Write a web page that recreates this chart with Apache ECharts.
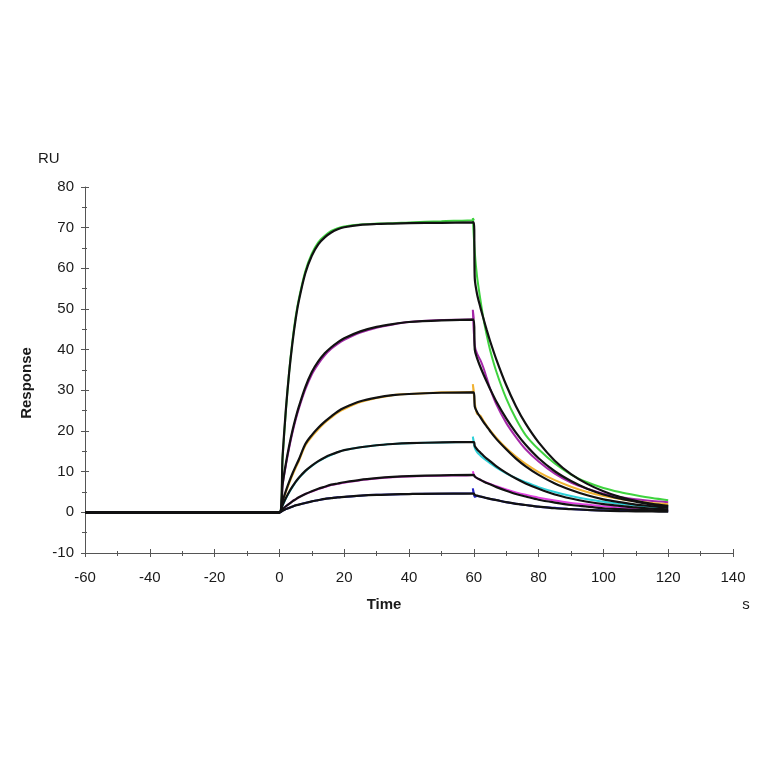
<!DOCTYPE html>
<html><head><meta charset="utf-8">
<script src="https://cdn.jsdelivr.net/npm/echarts@6/dist/echarts.min.js"></script>
<style>html,body{margin:0;padding:0;background:#fff}#c{width:764px;height:764px}</style>
</head><body><div id="c"></div>
<script>
// ---- data ----
const baselineT = [-60, -40, -20, 0];
const assocT = [0, 1, 2, 3, 4, 5, 6, 8, 10, 12, 14, 16, 18, 20, 25, 30, 35, 40, 50, 60];
const dissT = [60.3, 61, 62, 63, 64, 65, 67, 70, 73, 76, 80, 85, 90, 95, 100, 105, 110, 115, 120];
const spikeT = 59.7;

// fitted curves (black)
const fit1A = [0, 14, 25.3, 34.3, 41.5, 47.4, 52, 58.8, 63.1, 65.9, 67.6, 68.8, 69.6, 70.1, 70.7, 70.9, 71.0, 71.1, 71.2, 71.3];
const fit1D = [57.5, 53.7, 50.5, 47.6, 44.8, 42.2, 37.5, 31.3, 26.1, 21.8, 17.2, 12.7, 9.4, 7.0, 5.2, 3.8, 2.8, 2.1, 1.6];
const fit2A = [0, 7, 12, 16.3, 20, 23.2, 26, 30.8, 34.5, 37.1, 39.1, 40.6, 41.8, 42.8, 44.5, 45.6, 46.3, 46.8, 47.2, 47.4];
const fit2D = [40, 37.9, 35.8, 33.9, 32.1, 30.4, 27.2, 23.1, 19.6, 16.6, 13.3, 10.1, 7.7, 5.8, 4.4, 3.4, 2.6, 1.9, 1.5];
const fit3A = [0, 2.8, 5.3, 7.5, 9.5, 11.3, 13, 16.8, 19.0, 20.8, 22.3, 23.6, 24.8, 25.7, 27.3, 28.2, 28.8, 29.1, 29.4, 29.5];
const fit3D = [26, 24.7, 23.4, 22.2, 21.1, 20.0, 18.0, 15.5, 13.2, 11.3, 9.2, 7.1, 5.5, 4.2, 3.2, 2.5, 1.9, 1.5, 1.1];
const fit4A = [0, 1.8, 3.5, 5, 6.3, 7.5, 8.5, 10.2, 11.5, 12.6, 13.5, 14.2, 14.8, 15.3, 16.0, 16.5, 16.8, 17.0, 17.2, 17.3];
const fit4D = [16.3, 15.5, 14.7, 13.9, 13.2, 12.6, 11.3, 9.7, 8.3, 7.1, 5.8, 4.4, 3.4, 2.6, 2.0, 1.6, 1.2, 0.9, 0.7];
const fit5A = [0, 0.8, 1.5, 2.1, 2.7, 3.2, 3.7, 4.5, 5.2, 5.8, 6.3, 6.8, 7.1, 7.4, 8.0, 8.4, 8.7, 8.9, 9.1, 9.2];
const fit5D = [8.8, 8.4, 8.0, 7.6, 7.2, 6.9, 6.2, 5.3, 4.5, 3.9, 3.1, 2.4, 1.8, 1.4, 1.0, 0.8, 0.6, 0.5, 0.4];
const fit6A = [0, 0.4, 0.8, 1.1, 1.4, 1.7, 1.9, 2.3, 2.7, 3.0, 3.3, 3.5, 3.7, 3.8, 4.1, 4.3, 4.4, 4.5, 4.6, 4.6];
const fit6D = [4.3, 4.1, 3.9, 3.7, 3.5, 3.3, 3.0, 2.5, 2.1, 1.8, 1.4, 1.0, 0.8, 0.6, 0.4, 0.3, 0.25, 0.2, 0.15];

// measured curves (coloured)
const meas1A = [0, 13.5, 25, 34.5, 42, 48, 52.5, 59.3, 63.6, 66.4, 68, 69.2, 69.9, 70.3, 70.8, 71.0, 71.1, 71.3, 71.6, 71.9];
const meas1D = [64, 58, 52.5, 47.5, 43.5, 40, 34.5, 28, 23, 19, 15.5, 12, 9.3, 7.4, 6.0, 5.0, 4.2, 3.5, 3.0];
const meas2A = [0, 6.8, 11.6, 15.8, 19.5, 22.7, 25.5, 30.2, 33.9, 36.5, 38.6, 40.2, 41.4, 42.4, 44.2, 45.4, 46.2, 46.8, 47.3, 47.6];
const meas2D = [41, 39, 37.5, 35.5, 33, 30.5, 26.5, 22, 18.5, 15.5, 12.5, 9.5, 7.3, 5.8, 4.6, 3.8, 3.2, 2.8, 2.5];
const meas3A = [0, 2.6, 5.0, 7.1, 9.1, 10.9, 12.6, 16.4, 18.6, 20.4, 22.0, 23.3, 24.5, 25.4, 27.1, 28.1, 28.8, 29.1, 29.5, 29.8];
const meas3D = [27, 24.2, 23.8, 22.5, 21.3, 20.2, 18.3, 15.8, 13.7, 11.9, 9.9, 7.9, 6.3, 5.0, 4.0, 3.3, 2.7, 2.3, 2.0];
const meas4A = [0, 1.7, 3.4, 4.9, 6.2, 7.4, 8.4, 10.1, 11.4, 12.5, 13.4, 14.1, 14.8, 15.3, 16.0, 16.5, 16.8, 17.0, 17.2, 17.4];
const meas4D = [15.8, 14.8, 14.0, 13.3, 12.7, 12.1, 11.0, 9.6, 8.4, 7.4, 6.2, 5.0, 4.0, 3.2, 2.6, 2.1, 1.7, 1.4, 1.2];
const meas5A = [0, 0.8, 1.5, 2.1, 2.7, 3.2, 3.7, 4.5, 5.1, 5.7, 6.2, 6.7, 7.0, 7.3, 7.9, 8.3, 8.6, 8.8, 9.0, 9.2];
const meas5D = [8.8, 8.4, 8.0, 7.6, 7.3, 7.0, 6.4, 5.6, 4.9, 4.3, 3.6, 2.9, 2.3, 1.9, 1.5, 1.2, 1.0, 0.8, 0.7];
const meas6A = [0, 0.4, 0.8, 1.1, 1.4, 1.7, 1.9, 2.3, 2.7, 3.0, 3.3, 3.5, 3.7, 3.8, 4.1, 4.3, 4.4, 4.5, 4.6, 4.7];
const meas6D = [3.8, 4.0, 3.9, 3.7, 3.5, 3.3, 3.0, 2.5, 2.1, 1.8, 1.4, 1.1, 0.8, 0.6, 0.5, 0.4, 0.3, 0.3, 0.25];
const measSpike = [72.3, 49.8, 31.5, 18.6, 10.1, 5.9];

const measColors = ['#3fd33f', '#a428a8', '#f0b232', '#2ed0d8', '#e040e0', '#2222c8'];

const xTickMin = -60, xTickMax = 140, xTickStep = 20;
const yTickMin = -10, yTickMax = 80, yTickStep = 10;

// ---- build ----
function build(A, D, spike) {
  const pts = baselineT.map(t => [t, 0]);
  assocT.forEach((t, i) => { if (i > 0) pts.push([t, A[i]]); });
  if (spike !== undefined) pts.push([spikeT, spike]);
  dissT.forEach((t, i) => pts.push([t, D[i]]));
  return pts;
}
const meas = [[meas1A, meas1D], [meas2A, meas2D], [meas3A, meas3D], [meas4A, meas4D], [meas5A, meas5D], [meas6A, meas6D]];
const fits = [[fit1A, fit1D], [fit2A, fit2D], [fit3A, fit3D], [fit4A, fit4D], [fit5A, fit5D], [fit6A, fit6D]];

const series = [];
meas.forEach((m, i) => series.push({
  type: 'line', data: build(m[0], m[1], measSpike[i]), showSymbol: false, symbol: 'none',
  smooth: 0.3, lineStyle: { color: measColors[i], width: 2 }, z: 2
}));
fits.forEach((f, i) => series.push({
  type: 'line', data: build(f[0], f[1]), showSymbol: false, symbol: 'none',
  smooth: 0.3, lineStyle: { color: '#111', width: 2.2 }, z: 3
}));

const font = '"Liberation Sans", Arial, sans-serif';
const axisCommonX = { type: 'value', min: xTickMin, max: xTickMax, interval: xTickStep, splitLine: { show: false } };
const axisCommonY = { type: 'value', min: yTickMin, max: yTickMax, interval: yTickStep, splitLine: { show: false } };

const chart = echarts.init(document.getElementById('c'), null, { renderer: 'canvas' });
chart.setOption({
  animation: false,
  backgroundColor: '#fff',
  grid: { left: 85, right: 31, top: 187, bottom: 211, containLabel: false },
  xAxis: [
    Object.assign({}, axisCommonX, {
      position: 'bottom',
      axisLine: { show: true, onZero: false, lineStyle: { color: '#555', width: 1 } },
      axisTick: { show: true, inside: false, length: 4, lineStyle: { color: '#555' } },
      minorTick: { show: true, splitNumber: 2, length: 3, lineStyle: { color: '#555' } },
      axisLabel: { color: '#1a1a1a', fontSize: 15, fontFamily: font, margin: 17 }
    }),
    Object.assign({}, axisCommonX, {
      position: 'bottom',
      axisLine: { show: false, onZero: false },
      axisTick: { show: true, inside: true, length: 4, lineStyle: { color: '#555' } },
      minorTick: { show: true, splitNumber: 2, length: 2, lineStyle: { color: '#555' } },
      axisLabel: { show: false }
    })
  ],
  yAxis: [
    Object.assign({}, axisCommonY, {
      position: 'left',
      axisLine: { show: true, onZero: false, lineStyle: { color: '#555', width: 1 } },
      axisTick: { show: true, inside: false, length: 4, lineStyle: { color: '#555' } },
      minorTick: { show: true, splitNumber: 2, length: 3, lineStyle: { color: '#555' } },
      axisLabel: { color: '#1a1a1a', fontSize: 15, fontFamily: font, margin: 11 }
    }),
    Object.assign({}, axisCommonY, {
      position: 'left',
      axisLine: { show: false, onZero: false },
      axisTick: { show: true, inside: true, length: 4, lineStyle: { color: '#555' } },
      minorTick: { show: true, splitNumber: 2, length: 2, lineStyle: { color: '#555' } },
      axisLabel: { show: false }
    })
  ],
  graphic: [
    { type: 'text', left: 38, top: 151, style: { text: 'RU', fontSize: 15, fontFamily: font, fill: '#1a1a1a' } },
    { type: 'text', x: 27, y: 383, rotation: Math.PI / 2, style: { text: 'Response', fontSize: 15, fontWeight: 'bold', fontFamily: font, fill: '#1a1a1a', align: 'center', verticalAlign: 'middle' } },
    { type: 'text', x: 384, y: 605, style: { text: 'Time', fontSize: 15, fontWeight: 'bold', fontFamily: font, fill: '#1a1a1a', align: 'center', verticalAlign: 'middle' } },
    { type: 'text', x: 746, y: 605, style: { text: 's', fontSize: 15, fontFamily: font, fill: '#1a1a1a', align: 'center', verticalAlign: 'middle' } }
  ],
  series: series
});
</script>
</body></html>
